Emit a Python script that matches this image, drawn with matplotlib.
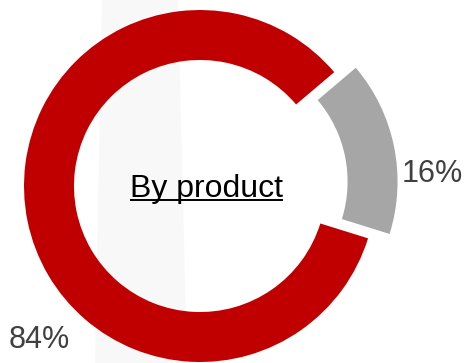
import matplotlib
matplotlib.use("Agg")
import matplotlib.pyplot as plt
from matplotlib.patches import Polygon

plt.rcParams['font.family'] = ['Liberation Sans', 'DejaVu Sans']

# data
shares = [16, 84]
share_labels = ['16%', '84%']
colors = ['#A6A6A6', '#C00000']
explode = [0.125, 0]
center_title = 'By product'

fig = plt.figure(figsize=(4.67, 3.63), dpi=100)
fig.patch.set_facecolor('white')

ax = fig.add_axes([0, 0, 1, 1])

# faint background band behind the ring
band = Polygon([(102/467, 1.0), (178/467, 1.0), (187/467, 0.0), (95/467, 0.0)],
               closed=True, transform=ax.transAxes, facecolor='#f8f8f8',
               edgecolor='none', zorder=0)
ax.add_patch(band)

# gray slice first, centred around ~11.5 degrees
start = 11.5 - shares[0] / 100 * 360 / 2
wedges, _ = ax.pie(shares, colors=colors, explode=explode, startangle=start,
                   counterclock=True, radius=1.0,
                   wedgeprops=dict(width=0.284, edgecolor='none'))
for w in wedges:
    w.set_zorder(2)

ax.set_aspect('equal')
ax.set_xlim(-200/176, 267/176)
ax.set_ylim(-177/176, 186/176)
ax.axis('off')

ax.text(1.318, 0.068, share_labels[0], fontsize=22, color='#404040',
        ha='center', va='center', zorder=3)
ax.text(-0.915, -0.875, share_labels[1], fontsize=22, color='#404040',
        ha='center', va='center', zorder=3)

t = ax.text(0.037, -0.0625, center_title, fontsize=23, color='black',
            ha='center', va='baseline', zorder=3)

# underline under the centre title
fig.canvas.draw()
bb = t.get_window_extent(renderer=fig.canvas.get_renderer())
inv = ax.transData.inverted()
(x0, _), (x1, _) = inv.transform([(bb.x0, 0), (bb.x1, 0)])
uy = -0.0625 - 3/176
ax.plot([x0, x1], [uy, uy], color='black', lw=1.4, solid_capstyle='butt', zorder=3)

fig.savefig('out.png', dpi=100)
